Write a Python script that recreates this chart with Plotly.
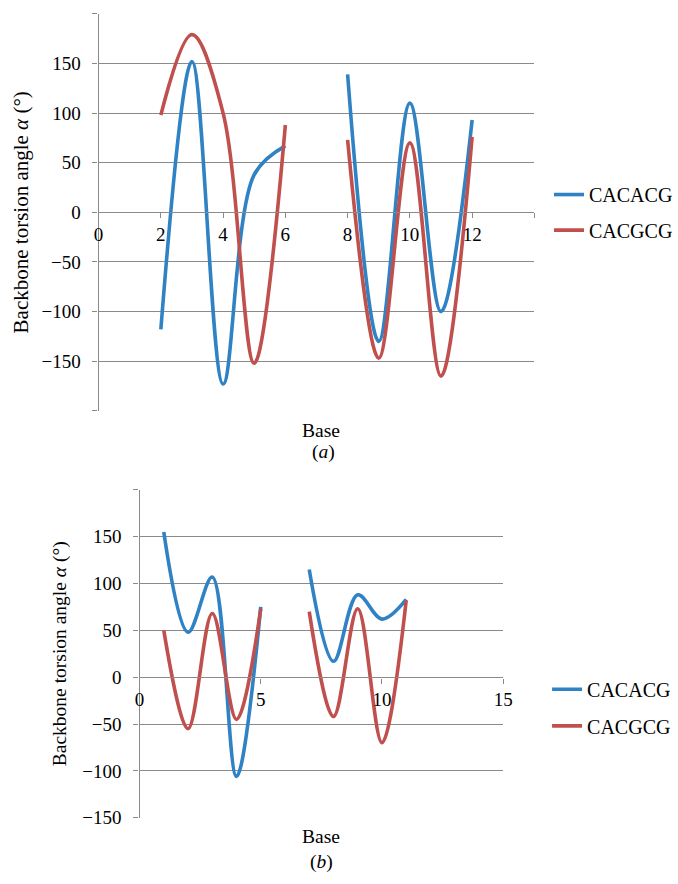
import plotly.graph_objects as go

# ---- Data ----
# Panel (a)
bases_a = [2, 3, 4, 5, 6, 7, 8, 9, 10, 11, 12]
cacacg_a = [-118, 152, -173, 38, 67, None, 139, -130, 110, -100, 93]
cacgcg_a = [98, 179, 100, -152, 88, None, 73, -147, 70, -165, 76]
yticks_a = [-200, -150, -100, -50, 0, 50, 100, 150, 200]
yticktext_a = ["", "\u2212150", "\u2212100", "\u221250", "0", "50", "100", "150", ""]
xticks_a = [0, 2, 4, 6, 8, 10, 12, 14]
xticktext_a = ["0", "2", "4", "6", "8", "10", "12", ""]

# Panel (b)
bases_b = [1, 2, 3, 4, 5, 6, 7, 8, 9, 10, 11]
cacacg_b = [155, 48, 107, -106, 75, None, 115, 17, 88, 62, 83]
cacgcg_b = [50, -55, 68, -45, 73, None, 70, -42, 73, -70, 82]
yticks_b = [-150, -100, -50, 0, 50, 100, 150, 200]
yticktext_b = ["\u2212150", "\u2212100", "\u221250", "0", "50", "100", "150", ""]
xticks_b = [0, 5, 10, 15]
xticktext_b = ["0", "5", "10", "15"]

series_names = ["CACACG", "CACGCG"]
BLUE = "#2F83C4"
RED = "#C0504D"
GRID = "#8A8A8A"
FONT = '"Liberation Serif", "Times New Roman", serif'
FS = 19

W, H = 678, 884

def px_x(p):
    return p / W

def px_y(p):
    return 1 - p / H

fig = go.Figure()

line_kw = dict(shape="spline", smoothing=1.0, width=3.6)

fig.add_trace(go.Scatter(x=bases_a, y=cacacg_a, mode="lines", name=series_names[0],
                         line=dict(color=BLUE, **line_kw), connectgaps=False,
                         xaxis="x", yaxis="y", legend="legend", showlegend=True))
fig.add_trace(go.Scatter(x=bases_a, y=cacgcg_a, mode="lines", name=series_names[1],
                         line=dict(color=RED, **line_kw), connectgaps=False,
                         xaxis="x", yaxis="y", legend="legend2", showlegend=True))
fig.add_trace(go.Scatter(x=bases_b, y=cacacg_b, mode="lines", name=series_names[0],
                         line=dict(color=BLUE, **line_kw), connectgaps=False,
                         xaxis="x2", yaxis="y2", legend="legend3", showlegend=True))
fig.add_trace(go.Scatter(x=bases_b, y=cacgcg_b, mode="lines", name=series_names[1],
                         line=dict(color=RED, **line_kw), connectgaps=False,
                         xaxis="x2", yaxis="y2", legend="legend4", showlegend=True))

# domains (paper coords, margins 0)
xa_dom = [px_x(96), px_x(543)]
ya_dom = [px_y(416), px_y(14)]
xb_dom = [px_x(138), px_x(511)]
yb_dom = [px_y(828), px_y(496)]

axis_font = dict(family=FONT, size=FS, color="black")

common_x = dict(showgrid=False, zeroline=False, showline=True, linecolor=GRID, linewidth=1.3,
                ticks="outside", ticklen=5, tickcolor=GRID, tickfont=axis_font,
                tickmode="array", anchor="free")
common_y = dict(showgrid=True, gridcolor=GRID, gridwidth=1.3, zeroline=False, showline=True,
                linecolor=GRID, linewidth=1.3, ticks="outside", ticklen=5, tickcolor=GRID,
                tickfont=axis_font, tickmode="array", ticklabelstandoff=8)

fig.update_layout(
    width=W, height=H,
    showlegend=True,
    margin=dict(l=0, r=0, t=0, b=0),
    paper_bgcolor="white", plot_bgcolor="white",
    font=dict(family=FONT, size=FS, color="black"),
    xaxis=dict(domain=xa_dom, range=[0, 14], tickvals=xticks_a, ticktext=xticktext_a,
               position=px_y(215), **common_x),
    yaxis=dict(domain=ya_dom, range=[-200, 200], tickvals=yticks_a, ticktext=yticktext_a,
               anchor="x",
               title=dict(text="Backbone torsion angle <i>\u03b1</i> (\u00b0)",
                          font=dict(family=FONT, size=21, color="black"), standoff=7),
               **common_y),
    xaxis2=dict(domain=xb_dom, range=[0, 15], tickvals=xticks_b, ticktext=xticktext_b,
                position=px_y(686), **common_x),
    yaxis2=dict(domain=yb_dom, range=[-150, 200], tickvals=yticks_b, ticktext=yticktext_b,
                anchor="x2",
                title=dict(text="Backbone torsion angle <i>\u03b1</i> (\u00b0)",
                           font=dict(family=FONT, size=19.5, color="black"), standoff=10),
                **common_y),
)

leg_common = dict(xanchor="left", yanchor="middle", bgcolor="rgba(0,0,0,0)",
                  font=dict(family=FONT, size=20, color="black"), borderwidth=0)
fig.update_layout(
    legend=dict(x=px_x(558), y=px_y(197), **leg_common),
    legend2=dict(x=px_x(558), y=px_y(233), **leg_common),
    legend3=dict(x=px_x(556), y=px_y(698), **leg_common),
    legend4=dict(x=px_x(556), y=px_y(735), **leg_common),
)

ann_font = dict(family=FONT, size=19.5, color="black")
fig.add_annotation(text="Base", x=px_x(324), y=px_y(436), xref="paper", yref="paper",
                   showarrow=False, font=ann_font, xanchor="center", yanchor="middle")
fig.add_annotation(text="(<i>a</i>)", x=px_x(327), y=px_y(458), xref="paper", yref="paper",
                   showarrow=False, font=ann_font, xanchor="center", yanchor="middle")
fig.add_annotation(text="Base", x=px_x(324), y=px_y(847), xref="paper", yref="paper",
                   showarrow=False, font=ann_font, xanchor="center", yanchor="middle")
fig.add_annotation(text="(<i>b</i>)", x=px_x(325), y=px_y(873), xref="paper", yref="paper",
                   showarrow=False, font=ann_font, xanchor="center", yanchor="middle")

fig.write_html("out.html",
               config={"displayModeBar": False},
               post_script="document.body.style.margin='0';document.body.style.overflow='hidden';")
